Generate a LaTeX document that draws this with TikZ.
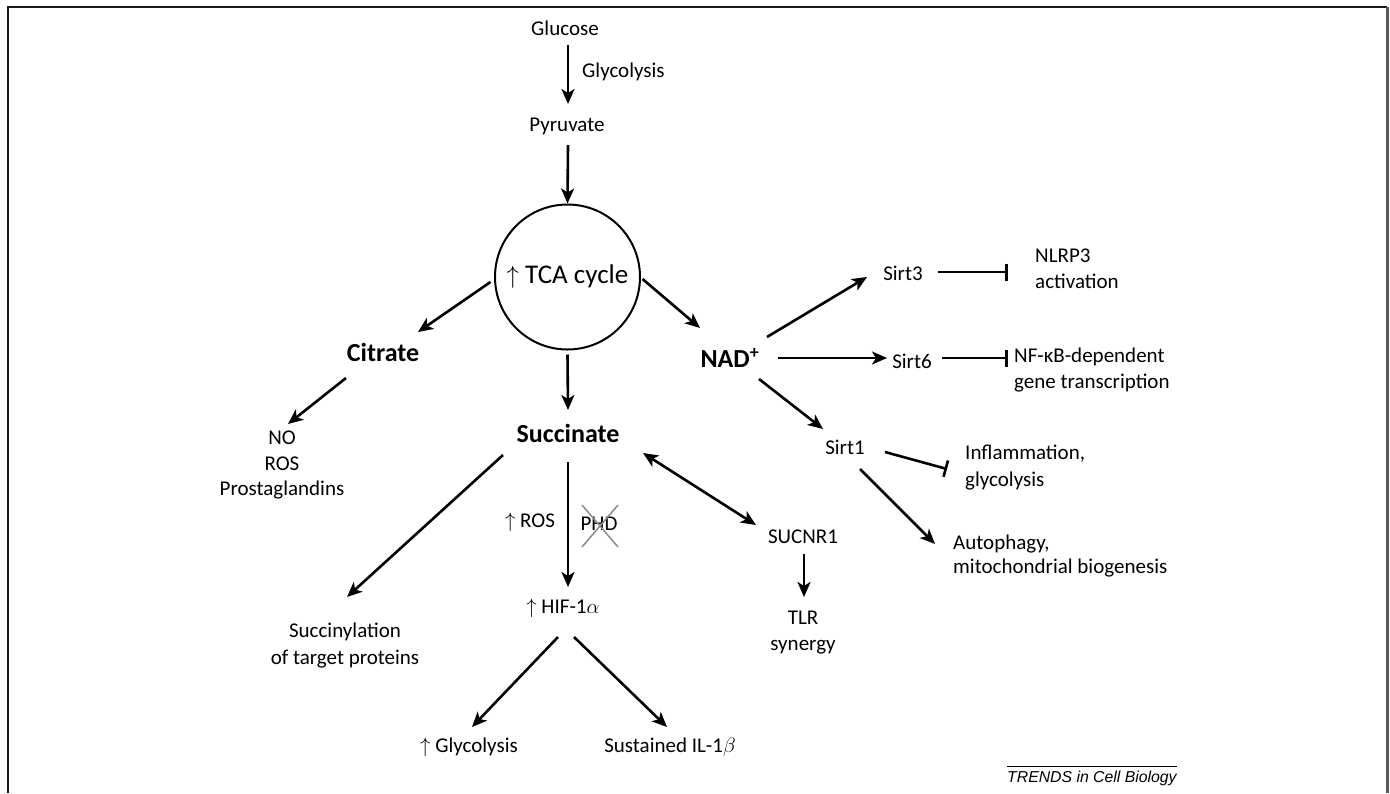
\documentclass[tikz,border=0pt]{standalone}
\usepackage{fontspec}
\setmainfont{Carlito}
\newfontfamily\arialfont{Liberation Sans}
\usetikzlibrary{arrows.meta,calc}
\tikzset{
  arr/.style={line width=2.6pt, -{Stealth[length=15pt,width=13pt,inset=4pt]}},
  darr/.style={line width=2.6pt, {Stealth[length=15pt,width=13pt,inset=4pt]}-{Stealth[length=15pt,width=13pt,inset=4pt]}},
  inh/.style={line width=2.6pt, -{Bar[width=17pt,line width=2.6pt]}},
  lbl/.style={font=\fontsize{21}{26}\selectfont, inner sep=0pt},
  big/.style={font=\fontsize{26}{30}\selectfont\bfseries, inner sep=0pt},
  cross/.style={line width=1.5pt, black!45},
  frame/.style={line width=2pt, black!90}
}
\begin{document}
\begin{tikzpicture}[x=1pt,y=-1pt]
\useasboundingbox (0,0) rectangle (1390,793);
% frame
\draw[frame] (7.5,793) -- (7.5,6.5) -- (1387,6.5);
\draw[line width=3pt, black!65] (1387,6.5) -- (1387,793);

% nodes
\node[lbl] (glucose) at (565,28) {Glucose};
\node[lbl, anchor=west] (glylab) at (582,72) {Glycolysis};
\node[lbl] (pyruvate) at (567,126) {Pyruvate};
\node[circle, draw, line width=2pt, minimum size=145pt, inner sep=0pt,
      font=\fontsize{27}{30}\selectfont] (tca) at (567.5,277) {$\uparrow$ TCA cycle};
\node[big] (citrate) at (383,352) {Citrate};
\node[lbl, align=center, font=\fontsize{21}{25.5}\selectfont] (cprod) at (282,465) {NO\\ROS\\Prostaglandins};
\node[big] (succinate) at (568,433) {Succinate};
\node[lbl, align=center, font=\fontsize{21}{27}\selectfont] (succinyl) at (345,646) {Succinylation\\of target proteins};
\node[lbl] (ros) at (530,522) {$\uparrow$ ROS};
\node[lbl] (phd) at (599,524) {PHD};
\node[lbl] (hif) at (563,608) {$\uparrow$ HIF-1$\alpha$};
\node[lbl] (glyc2) at (469,747) {$\uparrow$ Glycolysis};
\node[lbl] (il1b) at (670,747) {Sustained IL-1$\beta$};
\node[lbl] (sucnr1) at (803,537) {SUCNR1};
\node[lbl, align=center] (tlr) at (803,633) {TLR\\synergy};
\node[big] (nad) at (730,358) {NAD\textsuperscript{+}};
\node[lbl] (sirt3) at (903,273) {Sirt3};
\node[lbl, anchor=west, align=left] (nlrp3) at (1035,269) {NLRP3\\activation};
\node[lbl] (sirt6) at (912,361) {Sirt6};
\node[lbl, anchor=west, align=left] (nfkb) at (1014,370) {NF-κB-dependent\\gene transcription};
\node[lbl] (sirt1) at (845,447) {Sirt1};
\node[lbl, anchor=west, align=left, font=\fontsize{21}{27}\selectfont] (inflam) at (965,468) {Inflammation,\\glycolysis};
\node[lbl, anchor=west, align=left, font=\fontsize{21}{24}\selectfont] (autoph) at (953,556) {Autophagy,\\mitochondrial biogenesis};
\node[inner sep=0pt, anchor=west, font=\arialfont\itshape\fontsize{15.8}{18}\selectfont] (trends) at (1007,778) {TRENDS in Cell Biology};
\draw[line width=1pt] (trends.west |- 0,766) -- (trends.east |- 0,766);

% connectors
\draw[arr] ($(glucose)+(3,17)$) -- ($(pyruvate)+(1,-22)$);
\draw[arr] ($(pyruvate)+(1,19)$) -- (tca.north);
\draw[arr] ($(tca)+(-77,5)$) -- ($(citrate)+(35,-20)$);
\draw[arr] ($(citrate)+(-37,26)$) -- ($(cprod)+(6,-41)$);
\draw[arr] ($(tca.south)+(0,4)$) -- ($(succinate)+(0,-23)$);
\draw[arr] ($(succinate)+(-65,22)$) -- ($(succinyl)+(2,-49)$);
\draw[arr] ($(succinate)+(0,29)$) -- ($(hif)+(5,-21)$);
\draw[arr] ($(hif)+(-5,29)$) -- ($(glyc2)+(3,-20)$);
\draw[arr] ($(hif)+(11,29)$) -- ($(il1b)+(-3,-20)$);
\draw[darr] ($(succinate)+(75,20)$) -- ($(sucnr1)+(-47,-12)$);
\draw[arr] ($(sucnr1)+(1,17)$) -- ($(tlr)+(1,-36)$);
\draw[arr] ($(tca)+(75,2)$) -- ($(nad)+(-30,-30)$);
\draw[arr] ($(nad)+(37,-21)$) -- ($(sirt3)+(-36,4)$);
\draw[arr] ($(nad)+(48,0)$) -- ($(sirt6)+(-25,-3)$);
\draw[arr] ($(nad)+(29,21)$) -- ($(sirt1)+(-22,-18)$);
\draw[inh] ($(sirt3)+(35,-1)$) -- ($(sirt3)+(105,-1)$);
\draw[inh] ($(sirt6)+(30,-3)$) -- ($(sirt6)+(96,-3)$);
\draw[inh] ($(sirt1)+(40,5)$) -- ($(sirt1)+(102,22)$);
\draw[arr] ($(sirt1)+(15,22)$) -- ($(autoph.west)+(-18,-12)$);

% crossed PHD
\draw[cross] ($(phd)+(-17,-19)$) -- ($(phd)+(19,23)$);
\draw[cross] ($(phd)+(19,-19)$) -- ($(phd)+(-17,23)$);
\end{tikzpicture}
\end{document}
